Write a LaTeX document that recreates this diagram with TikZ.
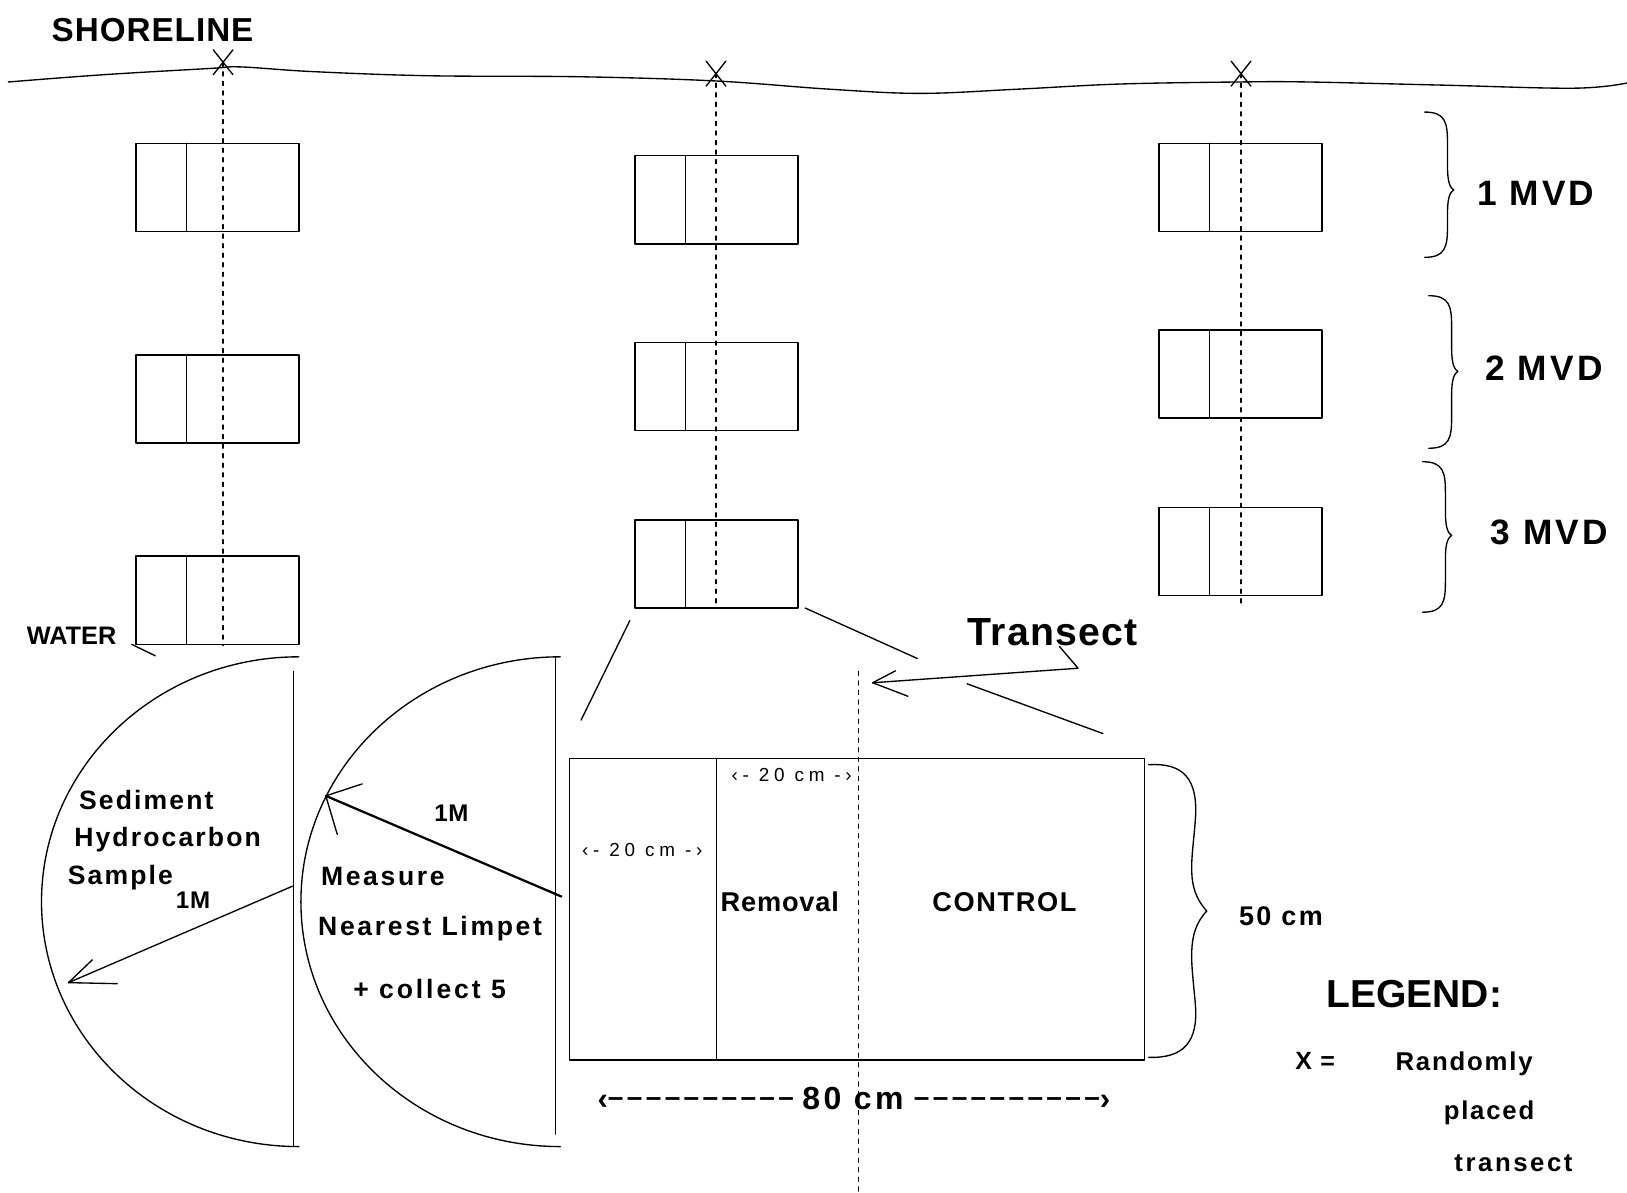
\documentclass[tikz,border=0pt]{standalone}
\usepackage{fontspec}
\setmainfont{Liberation Sans}
\newfontfamily\labfont{Liberation Sans}
\newfontfamily\dashfont[Ligatures=TeXOff,LetterSpace=12]{Liberation Sans}

\tikzset{
  ink/.style={line width=0.65pt},
  heavy/.style={line width=1.1pt},
  dotline/.style={line width=0.6pt, dash pattern=on 2pt off 2.6pt},
  txt/.style={inner sep=0pt, anchor=base},
  lab/.style 2 args={txt, font=\labfont\bfseries\fontsize{#1}{#1}\selectfont\addfontfeature{LetterSpace=#2}},
  reg/.style 2 args={txt, font=\labfont\fontsize{#1}{#1}\selectfont\addfontfeature{LetterSpace=#2}},
}

\begin{document}
\begin{tikzpicture}[x=0.5pt, y=-0.5pt, line join=round, line cap=round]
  \useasboundingbox (0,0) rectangle (1568,1149);

  % shoreline with the three transects
  \draw[ink] plot[smooth, tension=0.6] coordinates {(8,79) (100,72) (202,66) (232,64.5) (301,69)
    (413,73) (560,74) (689,78) (800,86) (887,90) (980,86) (1079,81) (1195,79) (1260,79)
    (1388,82) (1517,85) (1568,80)};
  \foreach \x/\y/\e in {215/60/622, 690/71/586, 1196/71/586} {
    \draw[ink] (\x-9.5,\y-12) -- (\x+9.5,\y+12) (\x-9.5,\y+12) -- (\x+9.5,\y-12);
    \draw[dotline] (\x,\y) -- (\x,\e);
  }
  \node[lab={16}{3}] (shore) at (147,40) {SHORELINE};
  \node[lab={12.2}{0}] (water) at (69,621) {WATER};
  \draw[ink] (127,621) -- (149.6,632);

  % quadrats along the transects
  \foreach \bx/\by in {131/138, 131/342, 131/536, 612/150, 612/330, 612/501,
                       1117/138, 1117/318, 1117/489} {
    \draw[ink] (\bx,\by) rectangle ++(157,85) (\bx+48.5,\by) -- ++(0,85);
  }

  % depth braces
  \foreach \bl/\ya/\ym/\yb in {1373/108/183/248, 1377/285/358/432, 1371/445/516/590} {
    \draw[ink] (\bl,\ya) .. controls (\bl+20,\ya) and (\bl+22,\ya+10) .. (\bl+22,\ya+30)
      -- (\bl+22,\ym-22) .. controls (\bl+22,\ym-6) and (\bl+25,\ym-2) .. (\bl+28,\ym)
      .. controls (\bl+25,\ym+2) and (\bl+22,\ym+6) .. (\bl+22,\ym+22)
      -- (\bl+22,\yb-30) .. controls (\bl+22,\yb-10) and (\bl+20,\yb) .. (\bl,\yb);
  }
  \node[lab={17}{9}] (mvd1) at (1480,197.6) {1 MVD};
  \node[lab={17}{9}] (mvd2) at (1488,367) {2 MVD};
  \node[lab={17}{9}] (mvd3) at (1493,525) {3 MVD};

  % sediment sample half circle
  \draw[ink] (288,633) arc[start angle=-90, end angle=-270, x radius=248, y radius=236];
  \draw[ink] (283,647) -- (283,1105);
  \coordinate (tipA) at (66,947);
  \draw[ink] (282,854) -- (tipA);
  \draw[ink] (89,925) -- (tipA) -- (113,948);
  \node[lab={12.8}{8}] (sed) at (141,780) {Sediment};
  \node[lab={12.8}{8}] (hyd) at (161.5,815.5) {Hydrocarbon};
  \node[lab={12.8}{8}] (smp) at (116,852) {Sample};
  \node[lab={11.6}{3}] (oneA) at (186,876) {1M};

  % limpet half circle
  \draw[ink] (540,633) arc[start angle=-90, end angle=-270, x radius=250, y radius=236];
  \draw[ink] (535.5,633) -- (535.5,1093);
  \coordinate (tipB) at (314,767);
  \draw[heavy] (541,864) -- (tipB);
  \draw[ink] (349,755.5) -- (tipB) -- (325,804);
  \node[lab={11.6}{3}] (oneB) at (435,792) {1M};
  \node[lab={12.8}{10}] (meas) at (369,853) {Measure};
  \node[lab={12.8}{10}] (near) at (414.5,902) {Nearest Limpet};
  \node[lab={12.8}{11}] (coll) at (414,962) {+ collect 5};

  % enlarged quadrat
  \draw[ink] (607,598) -- (560,694);
  \draw[ink] (776,586) -- (884,634.6);
  \draw[ink] (932,659) -- (1063,707);
  \draw[ink] (549,731) rectangle (1103,1021.6);
  \draw[ink] (690.7,731) -- (690.7,1021.6);
  \draw[dotline] (827,647) -- (827,1149);
  \node[lab={18.9}{3}] (trans) at (1014.5,622) {Transect};
  \coordinate (tipT) at (841,658);
  \draw[ink] (1021,623) -- (1039,644) -- (tipT);
  \draw[ink] (863,646.5) -- (tipT) -- (875,671);
  \node[reg={9.1}{25}] (wtop) at (763,752.7) {‹- 20 cm -›};
  \node[reg={9.1}{25}] (wleft) at (619,825.5) {‹- 20 cm -›};
  \node[lab={13.1}{3}] (rem) at (751.5,878) {Removal};
  \node[lab={13.1}{6}] (ctrl) at (968,878) {CONTROL};
  \node[txt] (len) at (823,1069) {{\dashfont\bfseries\fontsize{15}{15}\selectfont ‹}%
    \raisebox{1.2pt}{\dashfont\bfseries\fontsize{13.5}{13.5}\selectfont ––––––––––}\hskip 4pt
    {\labfont\bfseries\fontsize{15.4}{15.4}\selectfont\addfontfeature{LetterSpace=11}80 cm}\hskip 5pt
    \raisebox{1.2pt}{\dashfont\bfseries\fontsize{13.5}{13.5}\selectfont ––––––––––}%
    {\dashfont\bfseries\fontsize{15}{15}\selectfont ›}};
  \draw[ink] (1107,737) .. controls (1140,735) and (1155,750) .. (1152,790)
    .. controls (1149,830) and (1142,855) .. (1163,878)
    .. controls (1142,900) and (1149,930) .. (1152,968)
    .. controls (1155,1005) and (1140,1020) .. (1107,1019);
  \node[lab={13}{9}] (wid) at (1234.5,891.5) {50 cm};

  % legend
  \node[lab={18.8}{0}] (leg) at (1363,971) {LEGEND:};
  \node[lab={12}{0}, anchor=base west] (xkey) at (1248,1031) {X\hskip 4pt=};
  \node[lab={12.4}{7}] (rand) at (1411,1032) {Randomly};
  \node[lab={12.4}{7}] (plc) at (1435,1079) {placed};
  \node[lab={12.4}{10}] (trn) at (1458.6,1129) {transect};
\end{tikzpicture}
\end{document}
